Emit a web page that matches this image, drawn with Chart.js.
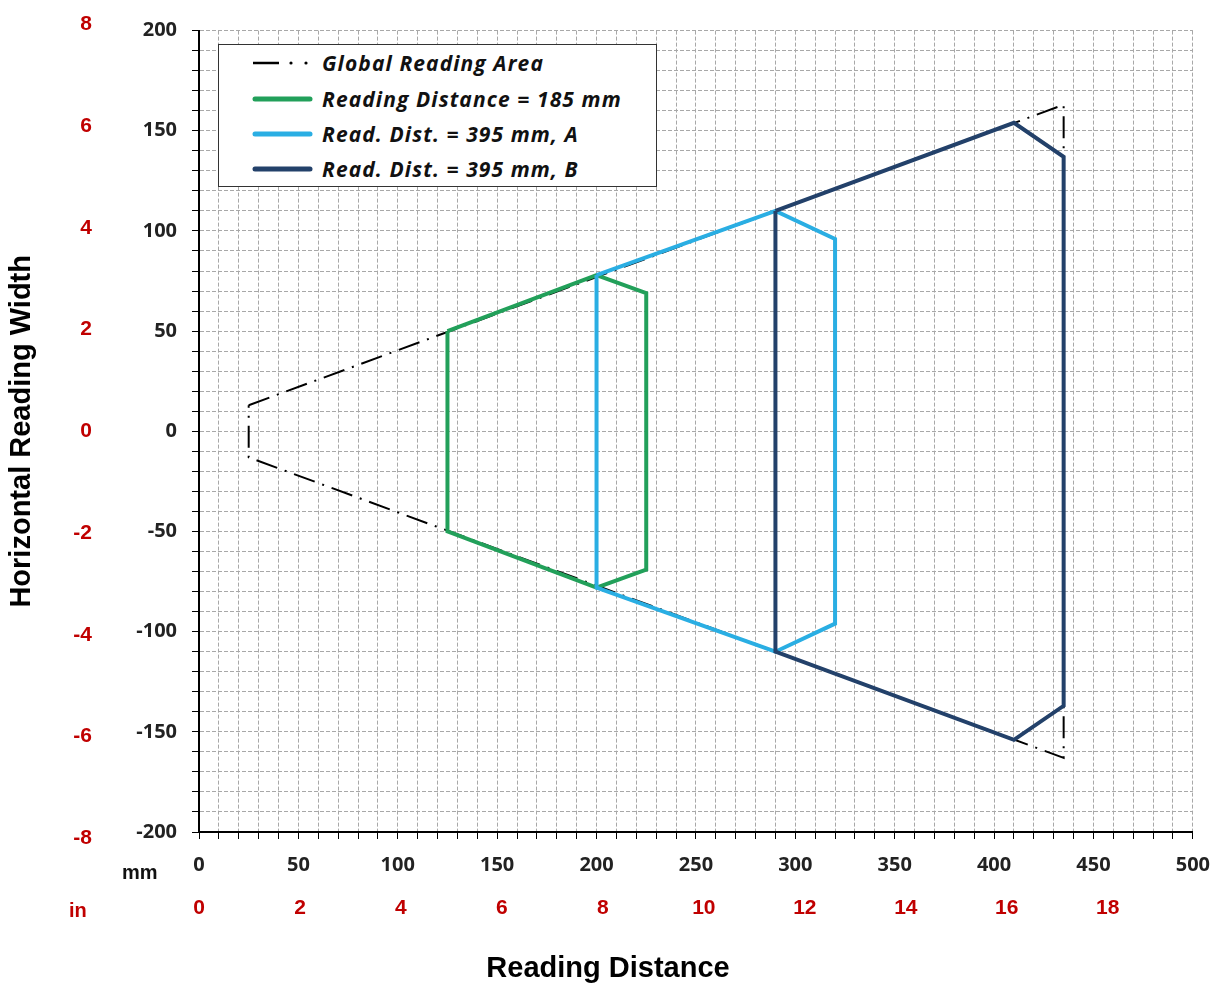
<!DOCTYPE html>
<html>
<head>
<meta charset="utf-8">
<script src="https://cdn.jsdelivr.net/npm/chart.js@4.4.1/dist/chart.umd.min.js"></script>
<style>
  body { margin: 0; background: #fff; }
  #wrap { position: relative; width: 1224px; height: 988px; }
  #legend {
    position: absolute; left: 218px; top: 44px; width: 439px; height: 143px;
    border: 1.5px solid #333; background: #fff; box-sizing: border-box;
    font: italic bold 21px "Open Sans", sans-serif; letter-spacing: 1.1px; color: #111;
  }
  .row { position: absolute; left: 33px; height: 26px; display: flex; align-items: center; }
  .row svg { width: 62px; height: 10px; margin-right: 8px; }
  .lbl { position: absolute; font: bold 20px "Liberation Sans", Arial, sans-serif; }
  #titulo-x { position: absolute; left: 0; width: 1216px; top: 951px; text-align: center;
    font: bold 29px "Liberation Sans", Arial, sans-serif; color: #000; }
</style>
</head>
<body>
<div id="wrap">
  <canvas id="grafico" width="1224" height="988"></canvas>
  <div id="legend"></div>
  <div class="lbl" style="left:122px; top:861px; color:#111;">mm</div>
  <div class="lbl" style="left:69px; top:899px; color:#c00000;">in</div>
  <div id="titulo-x">Reading Distance</div>
</div>
<script>
// Poligonos de lectura (mm)
const globalX = [25, 435, 435, 25, 25];
const globalY = [13, 163, -163, -13, 13];

const cercaX = [125, 200, 225, 225, 200, 125, 125];
const cercaY = [50, 78, 69, -69, -78, -50, 50];

const lejosAX = [200, 290, 320, 320, 290, 200, 200];
const lejosAY = [78, 110, 96, -96, -110, -78, 78];

const lejosBX = [290, 410, 435, 435, 410, 290, 290];
const lejosBY = [110, 154, 137, -137, -154, -110, 110];

const etiquetas = [
  'Global Reading Area',
  'Reading Distance = 185 mm',
  'Read. Dist. = 395 mm, A',
  'Read. Dist. = 395 mm, B'
];
const colores = ['#000000', '#22a05a', '#2aaee3', '#23416a'];

// Ejes: mm y pulgadas
const mmX = { min: 0, max: 500, paso: 10, etiqueta: 50 };
const mmY = { min: -200, max: 200, paso: 10, etiqueta: 50 };
const pulgX = [0, 2, 4, 6, 8, 10, 12, 14, 16, 18];
const pulgY = [-8, -6, -4, -2, 0, 2, 4, 6, 8];
const MM_POR_PULG = 25.4;

function puntos(xs, ys) {
  return xs.map((x, i) => ({ x: x, y: ys[i] }));
}

const rojo = '#c00000';
const gris = '#a8a8a8';

const datos = [
  { data: puntos(globalX, globalY), borderDash: [22, 8, 2, 8], borderWidth: 2, order: 4 },
  { data: puntos(cercaX, cercaY), borderWidth: 4, order: 3 },
  { data: puntos(lejosAX, lejosAY), borderWidth: 4, order: 2 },
  { data: puntos(lejosBX, lejosBY), borderWidth: 4, order: 1 }
].map((d, i) => Object.assign(d, {
  label: etiquetas[i],
  borderColor: colores[i],
  showLine: true,
  fill: false,
  pointRadius: 0,
  tension: 0
}));

new Chart(document.getElementById('grafico'), {
  type: 'scatter',
  data: { datasets: datos },
  options: {
    responsive: false,
    animation: false,
    layout: { padding: { top: 30, right: 31, left: 0, bottom: 0 } },
    plugins: { legend: { display: false }, tooltip: { enabled: false } },
    scales: {
      x: {
        type: 'linear', position: 'bottom', weight: 0,
        min: mmX.min, max: mmX.max,
        afterFit: s => { s.height = 52; },
        ticks: {
          stepSize: mmX.paso, autoSkip: false, maxRotation: 0, padding: 14,
          color: '#222', font: { family: 'Open Sans', weight: 'bold', size: 20 },
          callback: v => (v % mmX.etiqueta === 0 ? v : '')
        },
        grid: { color: gris, tickColor: '#000', tickLength: 7, tickBorderDash: [] },
        border: { color: '#000', width: 2, dash: [4, 2] }
      },
      xin: {
        type: 'linear', position: 'bottom', weight: 1,
        min: 0, max: mmX.max / MM_POR_PULG,
        afterFit: s => { s.height = 104; },
        afterBuildTicks: s => { s.ticks = pulgX.map(v => ({ value: v })); },
        ticks: {
          autoSkip: false, maxRotation: 0, padding: 12, color: rojo,
          font: { family: 'Liberation Sans', weight: 'bold', size: 21 }
        },
        grid: { display: false, drawTicks: false },
        border: { display: false }
      },
      y: {
        type: 'linear', position: 'left', weight: 0,
        min: mmY.min, max: mmY.max,
        afterFit: s => { s.width = 89; },
        ticks: {
          stepSize: mmY.paso, autoSkip: false, padding: 15,
          color: '#222', font: { family: 'Open Sans', weight: 'bold', size: 20 },
          callback: v => (v % mmY.etiqueta === 0 ? v : '')
        },
        grid: { color: gris, tickColor: '#000', tickLength: 7, tickBorderDash: [] },
        border: { color: '#000', width: 2, dash: [4, 2] }
      },
      yin: {
        type: 'linear', position: 'left', weight: 1,
        min: mmY.min / MM_POR_PULG, max: mmY.max / MM_POR_PULG,
        afterFit: s => { s.width = 110; },
        afterBuildTicks: s => { s.ticks = pulgY.map(v => ({ value: v })); },
        ticks: {
          autoSkip: false, padding: 18, color: rojo,
          font: { family: 'Liberation Sans', weight: 'bold', size: 21 }
        },
        grid: { display: false, drawTicks: false },
        border: { display: false },
        title: {
          display: true, text: 'Horizontal Reading Width', color: '#000',
          font: { family: 'Liberation Sans', weight: 'bold', size: 29 },
          padding: { top: 5, bottom: 0 }
        }
      }
    }
  }
});

// Leyenda en HTML dentro del area del grafico
const leyenda = document.getElementById('legend');
const filasY = [5, 41, 76, 111];
etiquetas.forEach((texto, i) => {
  const fila = document.createElement('div');
  fila.className = 'row';
  fila.style.top = filasY[i] + 'px';
  let muestra;
  if (i === 0) {
    muestra = '<line x1="1" y1="5" x2="27" y2="5" stroke="#000" stroke-width="2.5"/>' +
      '<circle cx="39" cy="5" r="1.6" fill="#000"/><circle cx="54" cy="5" r="1.6" fill="#000"/>';
  } else {
    muestra = '<line x1="3" y1="5" x2="58" y2="5" stroke="' + colores[i] +
      '" stroke-width="5" stroke-linecap="round"/>';
  }
  fila.innerHTML = '<svg viewBox="0 0 62 10">' + muestra + '</svg><span>' + texto + '</span>';
  leyenda.appendChild(fila);
});
</script>
</body>
</html>
